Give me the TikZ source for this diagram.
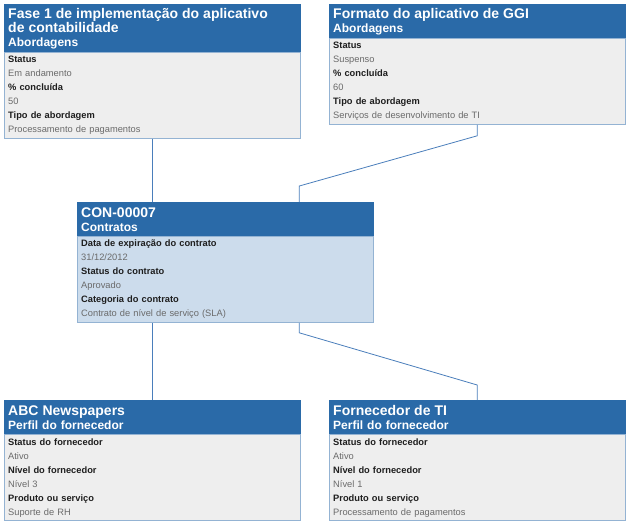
\documentclass[tikz,border=0pt]{standalone}
\usepackage{fontspec}
\setmainfont{Liberation Sans}
\usetikzlibrary{positioning,calc}

\definecolor{hdrblue}{HTML}{2A6AA8}
\definecolor{cardgray}{HTML}{EEEEEE}
\definecolor{cardblue}{HTML}{CCDCEC}
\definecolor{cardedge}{HTML}{94B3D3}
\definecolor{valgray}{HTML}{6A6A6A}
\definecolor{lblblack}{HTML}{1E1E1E}
\definecolor{linkblue}{HTML}{4A7EBB}

\newcommand{\cardtitle}[1]{{\fontsize{14}{14}\selectfont #1}}
\newcommand{\lbl}[1]{\textcolor{lblblack}{\bfseries #1}}
\newcommand{\val}[1]{\textcolor{valgray}{#1}}

\tikzset{
  hdr/.style={draw=hdrblue, fill=hdrblue, text=white, anchor=north west,
    minimum width=296, text width=288, align=left, inner xsep=4, inner ysep=2,
    minimum height=34, font=\fontsize{12}{14}\selectfont\bfseries},
  cardbody/.style={draw=cardedge, fill=cardgray, below=0pt of #1,
    minimum width=296, text width=288, align=left, inner xsep=4,
    minimum height=86, font=\fontsize{9.3}{14}\selectfont},
  link/.style={draw=linkblue, line width=0.8}
}

\begin{document}
\begin{tikzpicture}[x=1pt, y=-1pt]
      \useasboundingbox (0,0) rectangle (628,525);

      % Abordagens (top row)
      \node[hdr, minimum height=48] (fase) at (4,4)
        {\cardtitle{Fase 1 de implementação do aplicativo\\ de contabilidade}\\ Abordagens};
      \node[cardbody=fase] (fase-b)
        {\lbl{Status}\\ \val{Em andamento}\\ \lbl{\% concluída}\\ \val{50}\\
         \lbl{Tipo de abordagem}\\ \val{Processamento de pagamentos}};

      \node[hdr] (ggi) at (329,4)
        {\cardtitle{Formato do aplicativo de GGI}\\ Abordagens};
      \node[cardbody=ggi] (ggi-b)
        {\lbl{Status}\\ \val{Suspenso}\\ \lbl{\% concluída}\\ \val{60}\\
         \lbl{Tipo de abordagem}\\ \val{Serviços de desenvolvimento de TI}};

      % Contrato (middle)
      \node[hdr] (con) at (77,202)
        {\cardtitle{CON-00007}\\ Contratos};
      \node[cardbody=con, fill=cardblue] (con-b)
        {\lbl{Data de expiração do contrato}\\ \val{31/12/2012}\\
         \lbl{Status do contrato}\\ \val{Aprovado}\\
         \lbl{Categoria do contrato}\\ \val{Contrato de nível de serviço (SLA)}};

      % Perfil do fornecedor (bottom row)
      \node[hdr] (abc) at (4,400)
        {\cardtitle{ABC Newspapers}\\ Perfil do fornecedor};
      \node[cardbody=abc] (abc-b)
        {\lbl{Status do fornecedor}\\ \val{Ativo}\\ \lbl{Nível do fornecedor}\\ \val{Nível 3}\\
         \lbl{Produto ou serviço}\\ \val{Suporte de RH}};

      \node[hdr] (forn) at (329,400)
        {\cardtitle{Fornecedor de TI}\\ Perfil do fornecedor};
      \node[cardbody=forn] (forn-b)
        {\lbl{Status do fornecedor}\\ \val{Ativo}\\ \lbl{Nível do fornecedor}\\ \val{Nível 1}\\
         \lbl{Produto ou serviço}\\ \val{Processamento de pagamentos}};

      % Connection points on the contract card
      \coordinate (con-in) at ($(con.north west)!0.75!(con.north east)$);
      \coordinate (con-out) at ($(con-b.south west)!0.75!(con-b.south east)$);

      % Connectors
      \draw[link] (fase-b.south) -- (fase-b.south |- con.north);
      \draw[link] (ggi-b.south) -- ++(0,11) -- ($(con-in)+(0,-16)$) -- (con-in);
      \draw[link] (con-b.south -| abc.north) -- (abc.north);
      \draw[link] (con-out) -- ++(0,10) -- ($(forn.north)+(0,-15)$) -- (forn.north);
\end{tikzpicture}
\end{document}
